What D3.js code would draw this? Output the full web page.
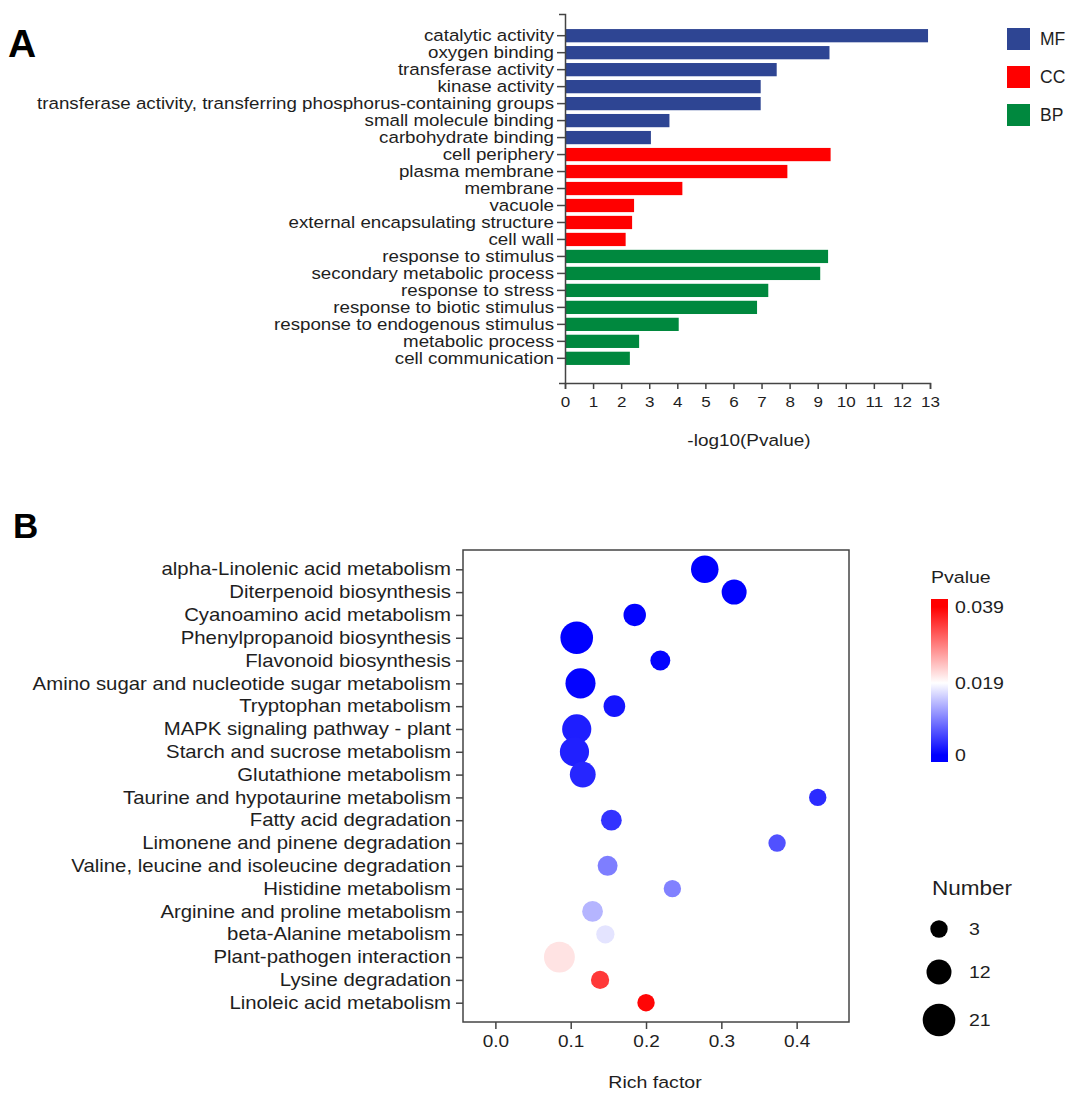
<!DOCTYPE html>
<html>
<head>
<meta charset="utf-8">
<script src="https://cdn.jsdelivr.net/npm/d3@7/dist/d3.min.js"></script>
<style>
body { margin: 0; background: #fff; }
text { font-family: Arial, "Liberation Sans", sans-serif; fill: #1e1e1e; }
</style>
</head>
<body>
<svg width="1074" height="1098"></svg>
<script>
// ---- panel A data ----
var goTerms = ["catalytic activity", "oxygen binding", "transferase activity", "kinase activity",
  "transferase activity, transferring phosphorus-containing groups", "small molecule binding",
  "carbohydrate binding", "cell periphery", "plasma membrane", "membrane", "vacuole",
  "external encapsulating structure", "cell wall", "response to stimulus",
  "secondary metabolic process", "response to stress", "response to biotic stimulus",
  "response to endogenous stimulus", "metabolic process", "cell communication"];
var goCategory = ["MF", "MF", "MF", "MF", "MF", "MF", "MF",
  "CC", "CC", "CC", "CC", "CC", "CC",
  "BP", "BP", "BP", "BP", "BP", "BP", "BP"];
var goValues = [12.93, 9.42, 7.54, 6.97, 6.97, 3.72, 3.06,
  9.46, 7.92, 4.18, 2.46, 2.39, 2.16,
  9.37, 9.09, 7.24, 6.84, 4.05, 2.64, 2.31];
var categories = ["MF", "CC", "BP"];
var logTicks = [0, 1, 2, 3, 4, 5, 6, 7, 8, 9, 10, 11, 12, 13];

// ---- panel B data ----
var pathways = ["alpha-Linolenic acid metabolism", "Diterpenoid biosynthesis", "Cyanoamino acid metabolism",
  "Phenylpropanoid biosynthesis", "Flavonoid biosynthesis", "Amino sugar and nucleotide sugar metabolism",
  "Tryptophan metabolism", "MAPK signaling pathway - plant", "Starch and sucrose metabolism",
  "Glutathione metabolism", "Taurine and hypotaurine metabolism", "Fatty acid degradation",
  "Limonene and pinene degradation", "Valine, leucine and isoleucine degradation", "Histidine metabolism",
  "Arginine and proline metabolism", "beta-Alanine metabolism", "Plant-pathogen interaction",
  "Lysine degradation", "Linoleic acid metabolism"];
var richFactor = [0.278, 0.317, 0.185, 0.108, 0.219, 0.113, 0.158, 0.108, 0.105, 0.116,
  0.428, 0.154, 0.374, 0.149, 0.235, 0.129, 0.146, 0.085, 0.139, 0.200];
var geneNumber = [15, 12, 9, 21, 6, 18, 8, 17, 17, 13, 3, 7, 3, 6, 3, 7, 4, 19, 4, 3];
var pValue = [0.0000, 0.0000, 0.0001, 0.0000, 0.0002, 0.0003, 0.0015, 0.0022, 0.0024, 0.0028,
  0.0032, 0.0038, 0.0060, 0.0094, 0.0096, 0.0135, 0.0170, 0.0212, 0.0345, 0.0385];
var pTicks = [0, 0.019, 0.039];
var richTicks = [0, 0.1, 0.2, 0.3, 0.4];
var sizeLegend = [3, 12, 21];

var SX = 1.15; // labels in the figure are a bit wider than Arial
var svg = d3.select("svg");

function label(x, y, str, size, anchor, weight) {
  return svg.append("text")
    .attr("transform", "translate(" + x + "," + y + ") scale(" + SX + ",1)")
    .attr("text-anchor", anchor || "start")
    .attr("dy", "0.35em")
    .style("font-size", size + "px")
    .style("font-weight", weight || "normal")
    .text(str);
}

// ================= A =================
svg.append("text").attr("x", 8).attr("y", 57)
  .style("font-size", "39px").style("font-weight", "bold").style("fill", "#000").text("A");

var catColor = d3.scaleOrdinal().domain(categories).range(["#2e4593", "#ff0000", "#00883e"]);
var xA = d3.scaleLinear().domain([0, 13]).range([565, 930]);
var yA = d3.scaleBand().domain(goTerms).range([14, 383])
  .paddingInner(0.22).paddingOuter(0.975).align(0.455);

svg.append("g").selectAll("rect")
  .data(goTerms)
  .join("rect")
    .attr("x", xA(0))
    .attr("y", function(d) { return yA(d); })
    .attr("width", function(d, i) { return xA(goValues[i]) - xA(0); })
    .attr("height", yA.bandwidth())
    .attr("fill", function(d, i) { return catColor(goCategory[i]); });

var axA = svg.append("g")
  .attr("transform", "translate(0,383)")
  .attr("color", "#444")
  .call(d3.axisBottom(xA).tickValues(logTicks).tickSize(6).tickSizeOuter(6).tickPadding(7));
axA.selectAll("text").attr("transform", "scale(" + SX + ",1)").style("font-size", "14.8px");

var ayA = svg.append("g")
  .attr("transform", "translate(565,0)")
  .attr("color", "#444")
  .call(d3.axisLeft(yA).tickSize(8).tickSizeOuter(6).tickPadding(3));
ayA.selectAll("text").attr("x", -11 / SX).attr("transform", "scale(" + SX + ",1)").style("font-size", "16.3px");
svg.selectAll(".domain, .tick line").attr("stroke-width", 1.5);

label(749, 440, "-log10(Pvalue)", 16.5, "middle");

var legA = svg.append("g");
legA.selectAll("rect")
  .data(categories)
  .join("rect")
    .attr("x", 1007)
    .attr("y", function(d, i) { return 28 + i * 38; })
    .attr("width", 23).attr("height", 22)
    .attr("fill", function(d) { return catColor(d); });
legA.selectAll("text")
  .data(categories)
  .join("text")
    .attr("x", 1040)
    .attr("y", function(d, i) { return 39 + i * 38; })
    .attr("dy", "0.35em")
    .style("font-size", "17.5px")
    .text(function(d) { return d; });

// ================= B =================
svg.append("text").attr("x", 13).attr("y", 538)
  .style("font-size", "35px").style("font-weight", "bold").style("fill", "#000").text("B");

var xB = d3.scaleLinear().domain([-0.043, 0.4695]).range([463, 849]);
var yB = d3.scalePoint().domain(pathways).range([550, 1022]).padding(0.846);
var rB = d3.scaleLinear().domain([3, 21]).range([8.7, 16.3]);
var cB = d3.scaleLinear().domain(pTicks).range(["#0000ff", "#ffffff", "#ff0000"]).clamp(true);

svg.append("g").selectAll("circle")
  .data(pathways)
  .join("circle")
    .attr("cx", function(d, i) { return xB(richFactor[i]); })
    .attr("cy", function(d) { return yB(d); })
    .attr("r", function(d, i) { return rB(geneNumber[i]); })
    .attr("fill", function(d, i) { return cB(pValue[i]); });

svg.append("rect")
  .attr("x", 463).attr("y", 550).attr("width", 386).attr("height", 472)
  .attr("fill", "none").attr("stroke", "#444").attr("stroke-width", 1.5);

var axB = svg.append("g")
  .attr("transform", "translate(0,1022)")
  .attr("color", "#444")
  .call(d3.axisBottom(xB).tickValues(richTicks).tickFormat(d3.format(".1f")).tickSize(7).tickSizeOuter(0).tickPadding(6));
axB.selectAll("text").attr("transform", "scale(" + SX + ",1)").style("font-size", "16.5px");
axB.select(".domain").remove();

var ayB = svg.append("g")
  .attr("transform", "translate(463,0)")
  .attr("color", "#444")
  .call(d3.axisLeft(yB).tickSize(7).tickSizeOuter(0).tickPadding(5));
ayB.selectAll("text").attr("x", -12 / SX).attr("transform", "scale(" + SX + ",1)").style("font-size", "17.7px");
ayB.select(".domain").remove();
axB.selectAll(".tick line").attr("stroke-width", 1.5);
ayB.selectAll(".tick line").attr("stroke-width", 1.5);

label(655, 1082, "Rich factor", 17, "middle");

// colour bar
var yP = d3.scaleLinear().domain([0, 0.039]).range([755, 607]);
var barTop = 599, barH = 163;
var grad = svg.append("defs").append("linearGradient")
  .attr("id", "pgrad").attr("x1", 0).attr("y1", 0).attr("x2", 0).attr("y2", 1);
grad.selectAll("stop")
  .data(pTicks.slice().reverse())
  .join("stop")
    .attr("offset", function(d) { return (yP(d) - barTop) / barH; })
    .attr("stop-color", function(d) { return cB(d); });
svg.append("rect").attr("x", 931).attr("y", barTop).attr("width", 17).attr("height", barH)
  .attr("fill", "url(#pgrad)");
label(931, 577, "Pvalue", 17);
svg.append("g").selectAll("text")
  .data(pTicks)
  .join("text")
    .attr("transform", function(d) { return "translate(955," + yP(d) + ") scale(" + SX + ",1)"; })
    .attr("dy", "0.35em")
    .style("font-size", "17px")
    .text(function(d) { return d === 0 ? "0" : d3.format(".3f")(d); });

// size legend
label(932, 888, "Number", 19.6);
var sizeY = [929, 972, 1020];
var legB = svg.append("g");
legB.selectAll("circle")
  .data(sizeLegend)
  .join("circle")
    .attr("cx", 939)
    .attr("cy", function(d, i) { return sizeY[i]; })
    .attr("r", function(d) { return rB(d); })
    .attr("fill", "#000");
legB.selectAll("text")
  .data(sizeLegend)
  .join("text")
    .attr("transform", function(d, i) { return "translate(969," + sizeY[i] + ") scale(" + SX + ",1)"; })
    .attr("dy", "0.35em")
    .style("font-size", "17px")
    .text(function(d) { return d; });
</script>
</body>
</html>
